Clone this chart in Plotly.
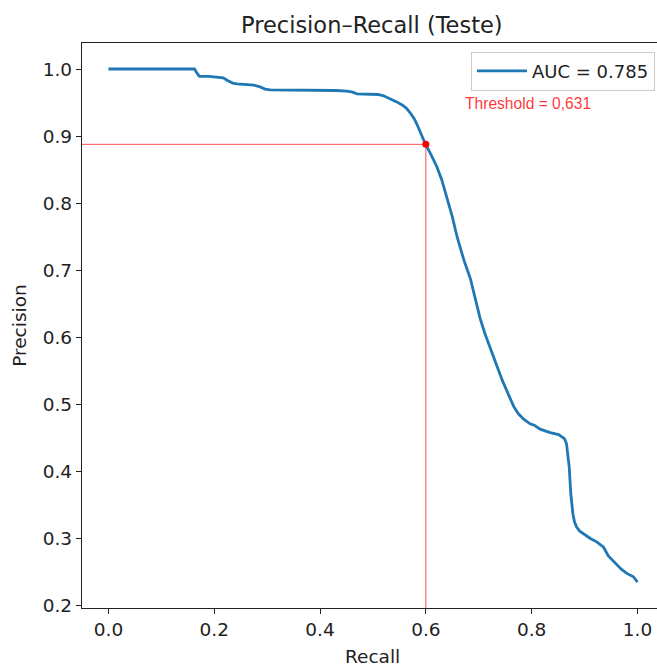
import plotly.graph_objects as go

# ---- data ----
recall = [0.0, 0.1626, 0.168, 0.172, 0.19, 0.205, 0.217, 0.225, 0.235, 0.243, 0.26, 0.275,
          0.288, 0.296, 0.306, 0.33, 0.35, 0.37, 0.39, 0.41, 0.43, 0.45, 0.46, 0.47, 0.49,
          0.51, 0.52, 0.532, 0.545, 0.556, 0.564, 0.572, 0.578, 0.583, 0.588, 0.5925,
          0.5987, 0.61, 0.621, 0.63, 0.640, 0.65, 0.659, 0.665, 0.672, 0.684, 0.693, 0.703,
          0.712, 0.722, 0.734, 0.745, 0.759, 0.766, 0.775, 0.785, 0.797, 0.805, 0.816,
          0.835, 0.851, 0.862, 0.866, 0.869, 0.871, 0.874, 0.876, 0.878, 0.881, 0.885,
          0.891, 0.898, 0.911, 0.923, 0.936, 0.945, 0.961, 0.970, 0.980, 0.9925, 1.0]
precision = [1.0, 1.0, 0.993, 0.989, 0.989, 0.988, 0.987, 0.983, 0.979, 0.978, 0.977, 0.976,
             0.973, 0.970, 0.969, 0.969, 0.968, 0.969, 0.968, 0.968, 0.968, 0.967, 0.966,
             0.963, 0.963, 0.962, 0.960, 0.956, 0.951, 0.946, 0.941, 0.933, 0.926, 0.918,
             0.908, 0.899, 0.889, 0.872, 0.854, 0.835, 0.809, 0.78, 0.750, 0.733, 0.715,
             0.688, 0.658, 0.627, 0.605, 0.585, 0.558, 0.535, 0.511, 0.497, 0.486, 0.478,
             0.471, 0.469, 0.463, 0.458, 0.455, 0.449, 0.441, 0.425, 0.407, 0.367, 0.348,
             0.337, 0.325, 0.317, 0.311, 0.307, 0.300, 0.295, 0.287, 0.274, 0.261, 0.254,
             0.248, 0.243, 0.235]

auc_label = "AUC = 0.785"
thr_recall = 0.6
thr_precision = 0.8877
thr_label = "Threshold = 0,631"

x_ticks = [0.0, 0.2, 0.4, 0.6, 0.8, 1.0]
y_ticks = [0.2, 0.3, 0.4, 0.5, 0.6, 0.7, 0.8, 0.9, 1.0]
x_range = [-0.05, 1.037]
y_range = [0.1964, 1.0388]

FONT = "DejaVu Sans"
RED = "rgba(255,0,0,0.7)"

fig = go.Figure()

# threshold guide lines
fig.add_trace(go.Scatter(x=[x_range[0], thr_recall], y=[thr_precision, thr_precision],
                         mode="lines", line=dict(color=RED, width=1), showlegend=False,
                         hoverinfo="skip"))
fig.add_trace(go.Scatter(x=[thr_recall, thr_recall], y=[y_range[0], thr_precision],
                         mode="lines", line=dict(color=RED, width=1), showlegend=False,
                         hoverinfo="skip"))

# PR curve
fig.add_trace(go.Scatter(x=recall, y=precision, mode="lines", name=auc_label,
                         line=dict(color="#1f77b4", width=2.8)))

# threshold point
fig.add_trace(go.Scatter(x=[thr_recall], y=[thr_precision], mode="markers",
                         marker=dict(color="red", size=7), showlegend=False))

axis_common = dict(showgrid=False, zeroline=False, showline=True, linecolor="#222",
                   linewidth=1.4, ticks="outside", ticklen=5, tickwidth=1.4,
                   tickcolor="#222", tickfont=dict(family=FONT, size=18.5, color="#222"),
                   tickformat=".1f")

fig.update_xaxes(range=x_range, tickvals=x_ticks, mirror=True, **axis_common)
fig.update_yaxes(range=y_range, tickvals=y_ticks, mirror=False, **axis_common)

fig.update_layout(
    width=657, height=666, autosize=False,
    margin=dict(l=82, r=0, t=43, b=58),
    plot_bgcolor="white", paper_bgcolor="white",
    font=dict(family=FONT, color="#222"),
    legend=dict(x=0.9965, y=0.9846, xanchor="right", yanchor="top", itemwidth=50,
                bordercolor="#cccccc", borderwidth=1, bgcolor="rgba(255,255,255,0.8)",
                font=dict(family=FONT, size=18, color="#222")),
    annotations=[
        dict(text="Precision–Recall (Teste)", x=0.5052, y=1.0313, xref="paper", yref="paper",
             showarrow=False, xanchor="center", yanchor="middle",
             font=dict(family=FONT, size=22.5, color="#222")),
        dict(text="Recall", x=0.5052, y=-0.0855, xref="paper", yref="paper",
             showarrow=False, xanchor="center", yanchor="middle",
             font=dict(family=FONT, size=18.5, color="#222")),
        dict(text="Precision", x=-0.109, y=0.5, xref="paper", yref="paper", textangle=-90,
             showarrow=False, xanchor="center", yanchor="middle",
             font=dict(family=FONT, size=18.5, color="#222")),
        dict(text=thr_label, x=0.6625, y=0.8935, xref="paper", yref="paper",
             showarrow=False, xanchor="left", yanchor="middle",
             font=dict(family="Liberation Sans", size=15.6, color="rgba(255,0,0,0.8)")),
    ],
)

fig.write_html("out.html")
